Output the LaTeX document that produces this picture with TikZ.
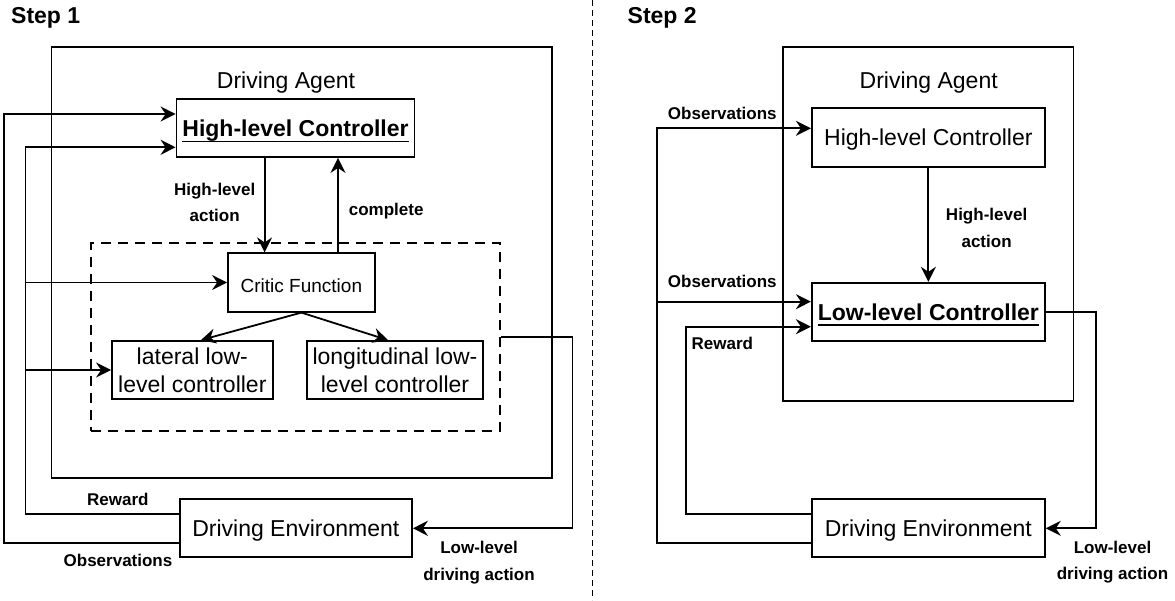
\documentclass[tikz,border=0pt]{standalone}
\usepackage{fontspec}
\setmainfont{Liberation Sans}
\usetikzlibrary{positioning,arrows.meta}
\newcommand{\ctrlul}[1]{{\setbox0\hbox{#1}\rlap{\raisebox{-5.8pt}{\rule{\wd0}{1.6pt}}}\box0}}

\begin{document}
\begin{tikzpicture}[
    x=1pt, y=-1pt,
    line width=1.8pt,
    block/.style={rectangle, draw, inner sep=0pt, align=center, font=\fontsize{23}{27.7}\selectfont},
    oneline/.style={text height=21.6pt, text depth=4.8pt},
    frame/.style={rectangle, draw, inner sep=0pt},
    title/.style={anchor=base west, inner sep=0pt, font=\fontsize{23}{27}\selectfont\bfseries},
    agentname/.style={anchor=base, inner sep=0pt, font=\fontsize{23}{27}\selectfont},
    note/.style={inner sep=0pt, align=center, font=\fontsize{17}{26.7}\selectfont\bfseries},
    arrow/.style={->,>={Stealth[length=15pt, width=15pt, inset=5pt]}},
    divider/.style={line width=1.3pt, dash pattern=on 6pt off 4pt}
]
    \useasboundingbox (0,0) rectangle (1175,600);

    % Step 1
    \node[title] (step1) at (10.3,23.3) {Step 1};
    \node[frame, minimum width=500.3pt, minimum height=430.7pt] (agent1) at (301.55,262.35) {};
    \node[agentname] (agent1name) at (286,88.3) {Driving Agent};
    \node[block, oneline, minimum width=238pt, minimum height=58pt] (hlc1) at (295.5,128) {\bfseries\ctrlul{High-level Controller}};
    \node[frame, dash pattern=on 10pt off 7pt, minimum width=409.6pt, minimum height=187.4pt] (team1) at (295.4,337) {};
    \node[block, font=\fontsize{19}{22}\selectfont, text height=19.5pt, minimum width=146.8pt, minimum height=58.4pt] (critic) at (301.4,282.5) {Critic Function};
    \node[block, minimum width=160.7pt, minimum height=58pt] (lat) at (192.35,370) {lateral low-\\level controller};
    \node[block, minimum width=176pt, minimum height=58pt] (lon) at (395,370) {longitudinal low-\\level controller};
    \node[block, oneline, minimum width=232.3pt, minimum height=58pt] (env1) at (295.85,528.3) {Driving Environment};

    % Arrows
    \coordinate (act1) at (264.6,0);
    \coordinate (cmp1) at (338,0);
    \coordinate (obs1) at (3.8,300);
    \coordinate (rew1) at (25.5,300);
    \coordinate (drv1) at (572.4,400);
    \draw[arrow] (hlc1.south -| act1) -- (critic.north -| act1);
    \draw[arrow] (critic.north -| cmp1) -- (hlc1.south -| cmp1);
    \draw[arrow] (critic.south) -- ([xshift=8.5pt]lat.north);
    \draw[arrow] (critic.south) -- ([xshift=-7pt]lon.north);
    \draw[arrow] ([yshift=-14.4pt]env1.west) -| (obs1) |- ([yshift=14pt]hlc1.west);
    \draw[arrow] ([yshift=14.6pt]env1.west) -| (rew1) |- ([yshift=-19.3pt]hlc1.west);
    \draw[arrow] (rew1 |- critic.west) -- (critic.west);
    \draw[arrow] (rew1 |- lat.west) -- (lat.west);
    \draw[arrow] (team1.east) -| (drv1) |- (env1.east);

    % Labels
    \node[note] (hla1) at (214.7,202.3) {High-level\\action};
    \node[note] (cmp1name) at (386.2,210.7) {complete};
    \node[note] (rew1name) at (117.8,499.9) {Reward};
    \node[note] (obs1name) at (118,560.6) {Observations};
    \node[note] (drv1name) at (479,562.4) {Low-level\\driving action};

    % Divider
    \coordinate (cut top) at (592.7,0);
    \coordinate (cut bottom) at (592.7,600);
    \draw[divider] (cut top) -- (cut bottom);

    % Step 2
    \node[title] (step2) at (626.8,23.3) {Step 2};
    \node[frame, minimum width=290.8pt, minimum height=354pt] (agent2) at (928.1,224) {};
    \node[agentname] (agent2name) at (928.7,88.3) {Driving Agent};
    \node[block, oneline, minimum width=233.1pt, minimum height=58.4pt] (hlc2) at (928.35,137.5) {High-level Controller};
    \node[block, oneline, minimum width=233.1pt, minimum height=58.3pt] (llc2) at (928.35,311.85) {\bfseries\ctrlul{Low-level Controller}};
    \node[block, oneline, minimum width=233.1pt, minimum height=58pt] (env2) at (928.35,528.3) {Driving Environment};

    % Arrows
    \coordinate (obs2) at (656.8,400);
    \coordinate (rew2) at (686,400);
    \coordinate (drv2) at (1096,400);
    \coordinate (llc2obs) at ([yshift=10.2pt]llc2.west);
    \draw[arrow] (hlc2) -- (llc2);
    \draw[arrow] ([yshift=-15pt]env2.west) -| (obs2) |- ([yshift=9.2pt]hlc2.west);
    \draw[arrow] (obs2 |- llc2obs) -- (llc2obs);
    \draw[arrow] ([yshift=14.6pt]env2.west) -| (rew2) |- ([yshift=-14.85pt]llc2.west);
    \draw[arrow] (llc2.east) -| (drv2) |- (env2.east);

    % Labels
    \node[note] (obs2name) at (722.3,113.2) {Observations};
    \node[note] (obs2bname) at (722.3,281.9) {Observations};
    \node[note] (rew2name) at (722.3,343.9) {Reward};
    \node[note] (hla2) at (986.6,227.6) {High-level\\action};
    \node[note] (drv2name) at (1112.5,562) {Low-level\\driving action};
\end{tikzpicture}
\end{document}
